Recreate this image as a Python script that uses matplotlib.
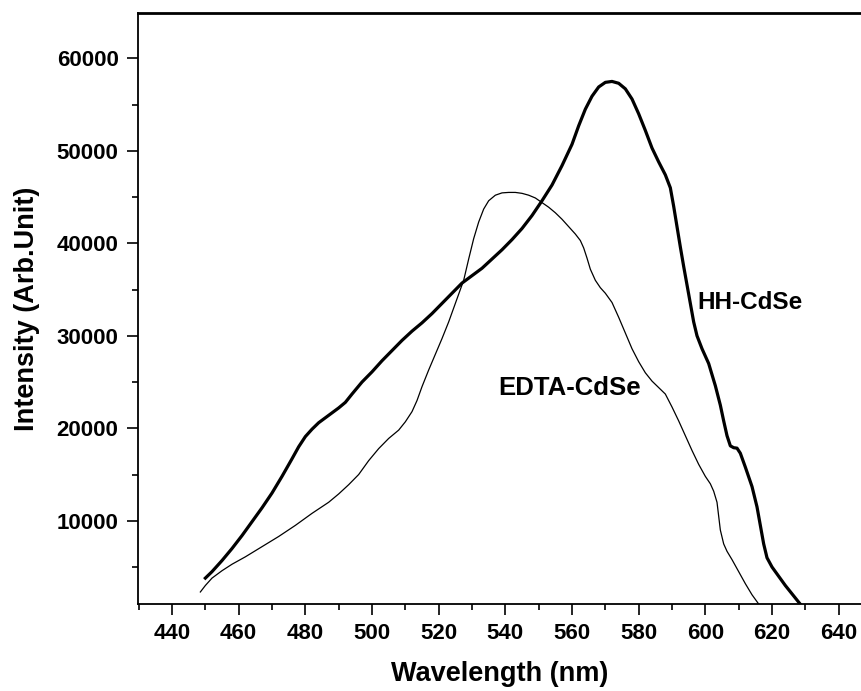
import matplotlib
matplotlib.use("Agg")
import matplotlib.pyplot as plt
from matplotlib.ticker import MultipleLocator

plt.rcParams['font.family'] = ['Liberation Sans', 'DejaVu Sans']
plt.rcParams['font.weight'] = 'bold'

# HH-CdSe (thick curve)
hh_wl = [450, 452, 455, 458, 461, 464, 467, 470, 473, 476, 478, 480, 482, 484,
         487, 490, 492, 494, 497, 500, 503, 506, 509, 512, 515, 518, 521, 524,
         527, 530, 533, 536, 539, 542, 545, 548, 551, 554, 557, 560, 562, 564,
         566, 568, 570, 572, 574, 576, 578, 580, 582, 584, 586, 588, 589.5,
         590.5, 591.5, 592.5, 593.5, 594.5, 595.5, 596.5, 597.5, 599, 601, 603,
         604.5, 605.5, 606.5, 607.5, 608.5, 609.5, 610.5, 612, 614, 615.5, 616.5,
         617.5, 618.5, 620, 622, 624, 626, 628, 630]
hh_int = [3800, 4500, 5700, 7000, 8400, 9900, 11400, 13000, 14800, 16700, 18000,
          19100, 19900, 20600, 21400, 22200, 22800, 23700, 25000, 26100, 27300,
          28400, 29500, 30500, 31400, 32400, 33500, 34600, 35700, 36500, 37300,
          38300, 39300, 40400, 41600, 43000, 44600, 46300, 48400, 50700, 52700,
          54500, 55900, 56900, 57400, 57500, 57300, 56700, 55600, 54000, 52200,
          50300, 48800, 47400, 46000, 44000, 41800, 39600, 37500, 35500, 33500,
          31500, 30000, 28600, 27000, 24600, 22500, 20800, 19200, 18100, 17900,
          17850, 17300, 15800, 13700, 11500, 9500, 7500, 6000, 5000, 4000, 3000,
          2100, 1200, 300]

# EDTA-CdSe (thin curve)
edta_wl = [448.5, 450, 452, 455, 458, 462, 467, 472, 477, 482, 487, 490, 493,
           496, 499, 502, 505, 508, 510, 512, 513.5, 515, 517, 519, 521, 523, 525,
           527.5, 529, 530.5, 532, 533.5, 535, 537, 539, 541, 543, 545, 547, 549,
           551, 553, 555, 557, 559, 561, 562.5, 563.5, 564.5, 565.5, 567, 568.5,
           570, 572, 574, 576, 578, 580, 582, 584, 586, 588, 590, 592, 594, 596,
           598, 600, 601.5, 602.5, 603.5, 604, 604.5, 605.5, 606.5, 608, 610, 612,
           614, 616, 617]
edta_int = [2300, 3000, 3800, 4600, 5300, 6100, 7200, 8300, 9500, 10800, 12000,
            12900, 13900, 15000, 16500, 17800, 18900, 19800, 20700, 21800, 23000,
            24500, 26300, 28000, 29700, 31500, 33500, 36000, 38300, 40500, 42300,
            43700, 44600, 45200, 45450, 45500, 45500, 45400, 45200, 44900, 44400,
            43900, 43300, 42600, 41800, 41000, 40300, 39500, 38400, 37200, 36000,
            35200, 34600, 33600, 32000, 30300, 28600, 27200, 26000, 25100, 24400,
            23700, 22300, 20800, 19200, 17600, 16100, 14800, 14000, 13200, 12000,
            10500, 9000, 7500, 6700, 5800, 4500, 3200, 2000, 1000, 0]

fig = plt.figure(figsize=(8.61, 6.91), dpi=100)
ax = fig.add_axes([0.1603, 0.1259, 0.8397, 0.8553])

ax.plot(hh_wl, hh_int, color='black', linewidth=2.3, solid_joinstyle='round')
ax.plot(edta_wl, edta_int, color='black', linewidth=0.9, solid_joinstyle='round')

ax.text(597.5, 33600, 'HH-CdSe', fontsize=17.5, fontweight='bold', va='center', ha='left')
ax.text(537.8, 24400, 'EDTA-CdSe', fontsize=18.5, fontweight='bold', va='center', ha='left')

ax.set_xlim(429.8, 646.7)
ax.set_ylim(1000, 64900)
ax.xaxis.set_major_locator(MultipleLocator(20))
ax.xaxis.set_minor_locator(MultipleLocator(10))
ax.yaxis.set_major_locator(MultipleLocator(10000))
ax.yaxis.set_minor_locator(MultipleLocator(5000))

ax.spines['right'].set_visible(False)
for s in ['left', 'bottom']:
    ax.spines[s].set_linewidth(1.3)
ax.spines['top'].set_linewidth(2.0)

ax.tick_params(which='major', direction='out', length=8, width=1.2, labelsize=16, pad=6)
ax.tick_params(which='minor', direction='out', length=4.5, width=1.2)
ax.tick_params(top=False, right=False, which='both')

ax.set_xlabel('Wavelength (nm)', fontsize=19.5, fontweight='bold', labelpad=12)
ax.set_ylabel('Intensity (Arb.Unit)', fontsize=19.5, fontweight='bold', labelpad=12)

fig.savefig('out.png', dpi=100)
